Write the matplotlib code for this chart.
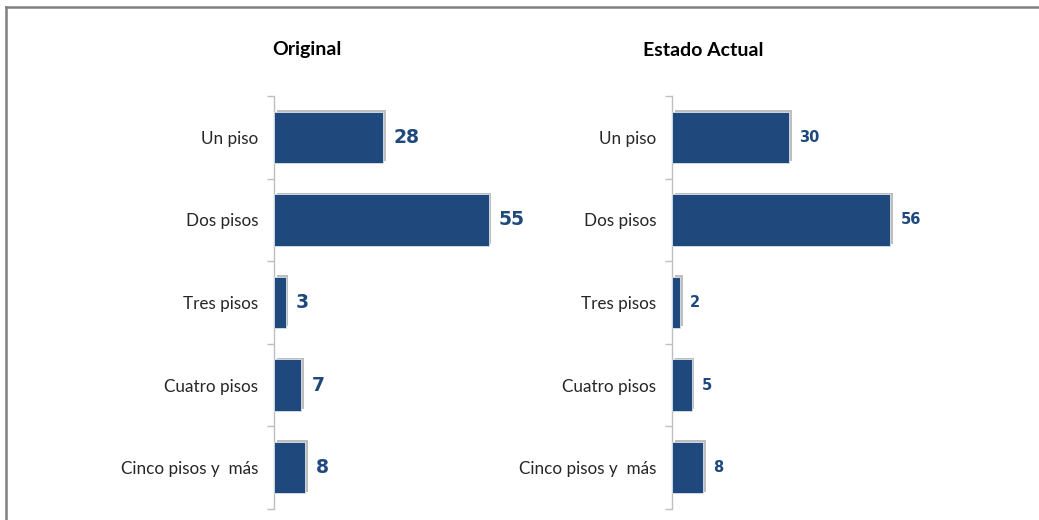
import matplotlib
matplotlib.use("Agg")
import matplotlib.pyplot as plt
from matplotlib import patheffects as pe
from matplotlib.lines import Line2D

plt.rcParams['font.family'] = ['Lato', 'DejaVu Sans']

categories = ["Un piso", "Dos pisos", "Tres pisos", "Cuatro pisos", "Cinco pisos y  más"]
original = [28, 55, 3, 7, 8]
actual = [30, 56, 2, 5, 8]
titles = ["Original", "Estado Actual"]

W, H = 1039, 520
fig = plt.figure(figsize=(W / 100, H / 100), dpi=100)
fig.patch.set_facecolor("white")

bar_color = "#1F497D"
spine_color = "#BFBFBF"

# frame lines
fig.add_artist(Line2D([6 / W, 1.0], [1 - 7 / H, 1 - 7 / H], color="#808080", lw=1.8))
fig.add_artist(Line2D([6 / W, 6 / W], [0, 1 - 7 / H], color="#808080", lw=1.8))

panels = [
    (274 / W, original, 13.5, titles[0], 307 / W),
    (672 / W, actual, 10.5, titles[1], 703 / W),
]

for left, vals, lab_fs, title, tx in panels:
    ax = fig.add_axes([left, 1 - 509 / H, 273 / W, (509 - 96) / H])
    ax.set_facecolor("none")
    y = list(range(len(categories)))
    bars = ax.barh(y, vals, height=0.62, color=bar_color, edgecolor="#DCE3EE", linewidth=0.6, zorder=3)
    for b in bars:
        b.set_path_effects([pe.SimplePatchShadow(offset=(2.0, 1.2), shadow_rgbFace="#7F7F7F", alpha=0.5), pe.Normal()])
    ax.set_xlim(0, 70)
    ax.set_ylim(len(categories) - 0.5, -0.5)
    for s in ["top", "right", "bottom"]:
        ax.spines[s].set_visible(False)
    ax.spines["left"].set_color(spine_color)
    ax.spines["left"].set_linewidth(1.0)
    ax.set_xticks([])
    ax.set_yticks(y)
    ax.set_yticklabels(categories, fontsize=12.3, color="#262626")
    ax.tick_params(axis="y", which="major", length=0, pad=11.5)
    ax.set_yticks([i - 0.5 for i in range(len(categories) + 1)], minor=True)
    ax.tick_params(axis="y", which="minor", length=5, color=spine_color, width=1.0)
    for i, v in enumerate(vals):
        ax.annotate(str(v), (v, i), xytext=(7.5, 0), textcoords="offset points",
                    va="center", ha="left", fontsize=lab_fs, fontweight="bold", color=bar_color,
                    family="DejaVu Sans")
    fig.text(tx, 1 - 50 / H, title, ha="center", va="center", fontsize=14, fontweight="bold", color="black")

fig.savefig("out.png", dpi=100, facecolor="white")
